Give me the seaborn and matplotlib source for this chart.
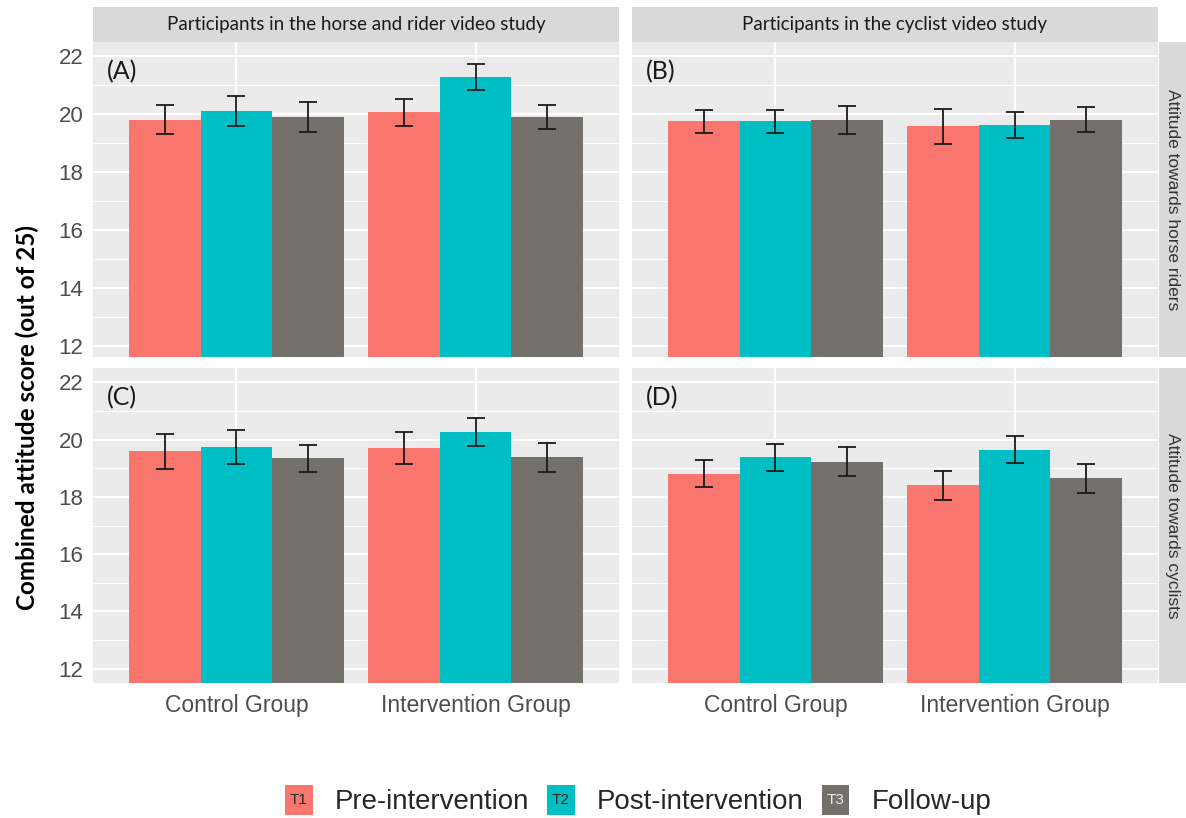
import pandas as pd
import matplotlib.pyplot as plt
import seaborn as sns
from matplotlib.patches import Rectangle, Patch
from matplotlib.text import Text
from matplotlib.legend_handler import HandlerBase
from matplotlib.ticker import MultipleLocator

# values (mean score, half-width of error bar)
groups = ['Control Group', 'Intervention Group']
times = ['T1', 'T2', 'T3']
time_labels = ['Pre-intervention', 'Post-intervention', 'Follow-up']
panels = ['A', 'B', 'C', 'D']
col_titles = ['Participants in the horse and rider video study',
              'Participants in the cyclist video study']
row_titles = ['Attitude towards horse riders', 'Attitude towards cyclists']

# order: Control T1, T2, T3, Intervention T1, T2, T3
means_A = [19.82, 20.12, 19.92, 20.07, 21.28, 19.92]
errs_A = [0.51, 0.53, 0.51, 0.47, 0.45, 0.41]
means_B = [19.76, 19.76, 19.82, 19.59, 19.65, 19.82]
errs_B = [0.41, 0.41, 0.48, 0.61, 0.45, 0.42]
means_C = [19.59, 19.74, 19.34, 19.70, 20.27, 19.38]
errs_C = [0.60, 0.58, 0.47, 0.55, 0.49, 0.50]
means_D = [18.80, 19.38, 19.23, 18.40, 19.65, 18.65]
errs_D = [0.47, 0.47, 0.51, 0.50, 0.47, 0.51]

colors = ['#F8766D', '#00BFC4', '#74716C']
tag_colors = ['#2a2a2a', '#2a2a2a', '#eeeeee']

rows = []
for p, m, e in zip(panels, [means_A, means_B, means_C, means_D],
                   [errs_A, errs_B, errs_C, errs_D]):
    i = 0
    for g in groups:
        for t in times:
            rows.append({'panel': p, 'group': g, 'time': t, 'score': m[i], 'se': e[i]})
            i += 1
df = pd.DataFrame(rows)

sns.set_style('white')
plt.rcParams['font.family'] = ['Liberation Sans', 'DejaVu Sans']

W, H = 1186, 818
fig = plt.figure(figsize=(W / 100, H / 100), dpi=100)


def box(x0, y0, x1, y1):
    return [x0 / W, 1 - y1 / H, (x1 - x0) / W, (y1 - y0) / H]


cols_px = [(93, 619), (632, 1158)]
rows_px = [(42, 357), (368, 683)]
ylims = [(11.63, 22.5), (11.5, 22.5)]

for k, p in enumerate(panels):
    r, c = divmod(k, 2)
    x0, x1 = cols_px[c]
    y0, y1 = rows_px[r]
    ax = fig.add_axes(box(x0, y0, x1, y1))
    sub = df[df['panel'] == p]
    sns.barplot(data=sub, x='group', y='score', hue='time', order=groups,
                hue_order=times, palette=colors, width=0.9, saturation=1,
                errorbar=None, legend=False, linewidth=0, edgecolor='none', ax=ax)
    # error bars at bar centres
    for t, cont in zip(times, ax.containers):
        s = sub[sub['time'] == t].set_index('group').loc[groups]
        xs = [b.get_x() + b.get_width() / 2 for b in cont]
        ax.errorbar(xs, s['score'], yerr=s['se'], fmt='none', ecolor='#1a1a1a',
                    elinewidth=1.3, capsize=6.7, capthick=1.3, zorder=5)
    ax.set_facecolor('#EBEBEB')
    for sp in ax.spines.values():
        sp.set_visible(False)
    ax.set_xlim(-0.6, 1.6)
    ax.set_ylim(*ylims[r])
    ax.set_yticks([12, 14, 16, 18, 20, 22])
    ax.yaxis.set_minor_locator(MultipleLocator(1))
    ax.set_axisbelow(True)
    ax.grid(which='major', color='white', lw=1.5)
    ax.grid(which='minor', axis='y', color='white', lw=0.7)
    ax.set_xlabel('')
    ax.set_ylabel('')
    ax.tick_params(axis='both', which='major', length=4, width=1, color='#333333',
                   labelcolor='#4D4D4D', labelsize=16, pad=3)
    ax.tick_params(axis='y', which='minor', length=0)
    if c == 1:
        ax.tick_params(axis='y', labelleft=False)
    if r == 0:
        ax.tick_params(axis='x', length=0, labelbottom=False)
    else:
        ax.tick_params(axis='x', labelsize=16.5, pad=4)
    ax.text(0.027, 0.905, f'({p})', transform=ax.transAxes, ha='left', va='center',
            fontsize=18, color='#1a1a1a', family=['Lato', 'DejaVu Sans'])

# facet strips
for c, title in enumerate(col_titles):
    x0, x1 = cols_px[c]
    sax = fig.add_axes(box(x0, 7, x1, 42))
    sax.set_facecolor('#D9D9D9')
    sax.set_xticks([])
    sax.set_yticks([])
    for sp in sax.spines.values():
        sp.set_visible(False)
    sax.text(0.5, 0.5, title, ha='center', va='center', fontsize=13.5,
             color='#1a1a1a', family=['Lato', 'DejaVu Sans'], transform=sax.transAxes)

for r, title in enumerate(row_titles):
    y0, y1 = rows_px[r]
    sax = fig.add_axes(box(1159, y0, 1186, y1))
    sax.set_facecolor('#D9D9D9')
    sax.set_xticks([])
    sax.set_yticks([])
    for sp in sax.spines.values():
        sp.set_visible(False)
    sax.text(0.5, 0.5, title, ha='center', va='center', rotation=-90, fontsize=12.5,
             color='#333333', transform=sax.transAxes)

fig.text(0.023, 0.49, 'Combined attitude score (out of 25)', rotation=90,
         ha='center', va='center', fontsize=17.5, fontweight='bold', color='black',
         family=['Lato', 'DejaVu Sans'])


class TagHandler(HandlerBase):
    def __init__(self, tag, color):
        super().__init__()
        self.tag = tag
        self.color = color

    def create_artists(self, legend, orig_handle, xdescent, ydescent, width, height,
                       fontsize, trans):
        rect = Rectangle((-xdescent, -ydescent), width, height,
                         facecolor=orig_handle.get_facecolor(), edgecolor='none',
                         transform=trans)
        txt = Text(-xdescent + width / 2, -ydescent + height / 2, self.tag,
                   color=self.color, ha='center', va='center', fontsize=fontsize * 0.55,
                   transform=trans)
        return [rect, txt]


handles = [Patch(facecolor=col) for col in colors]
fig.legend(handles, time_labels, loc='center', bbox_to_anchor=(638 / W, 1 - 800 / H),
           ncol=3, frameon=False, fontsize=19.9, handlelength=1.0, handleheight=1.3,
           handletextpad=0.8, columnspacing=0.65,
           handler_map={h: TagHandler(t, tc) for h, t, tc in zip(handles, times, tag_colors)})

fig.savefig('out.png', dpi=100, facecolor='white')
